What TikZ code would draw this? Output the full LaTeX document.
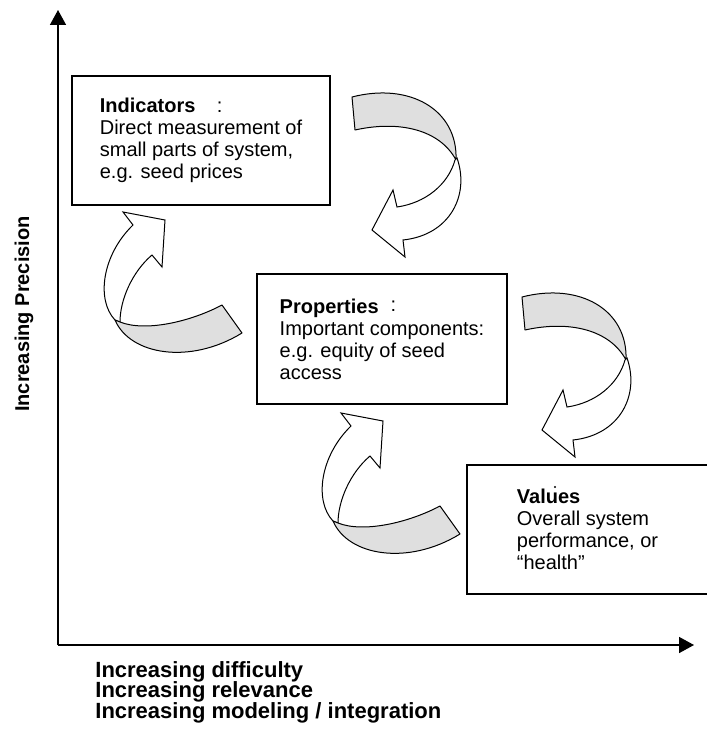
\documentclass[tikz,border=0pt]{standalone}
\usepackage{fontspec}
\setmainfont{Liberation Sans}
\usetikzlibrary{arrows.meta}
\newcommand\axislabelfont{\bfseries\fontsize{11}{10.25}\selectfont\lineskiplimit=-10pt\relax}
\tikzset{infobox/.style={draw, line width=0.8pt, align=left, inner sep=0pt, font=\fontsize{10}{11}\selectfont},
axis/.style={line width=0.8pt, -{Triangle[length=7.5pt,width=8pt]}},
backfold/.style={draw, fill=gray!25, line width=0.5pt, line join=round},
frontfold/.style={draw, fill=white, line width=0.5pt},
%ribbon turning down-left, local origin at its upper left
turndown/.pic={
  \draw[backfold] (2,7) -- (5,40) .. controls (50,30) and (90,40) .. (106,70)
    .. controls (108,20) and (60,-8) .. (2,7) -- cycle;
  \draw[frontfold] (107,68) .. controls (120,105) and (100,145) .. (53,150)
    -- (55,167) -- (22,140) -- (43,100) -- (47,117)
    .. controls (75,113) and (98,95) .. (105,70) -- cycle;
},
%ribbon turning up-right
turnup/.pic={
  \draw[frontfold] (43,45) -- (33,32) -- (75,40) -- (72,87) -- (62,75)
    .. controls (42,92) and (30,120) .. (30,142) -- (25,140)
    .. controls (6,120) and (12,75) .. (43,45) -- cycle;
  \draw[backfold] (25,140) .. controls (40,175) and (100,185) .. (152,153)
    -- (132,125) .. controls (100,142) and (55,152) .. (30,142) -- cycle;
}}

\begin{document}
\begin{tikzpicture}[x=0.5pt, y=-0.5pt]
		\useasboundingbox (0,0) rectangle (706,738);

		\coordinate (origin) at (58,645);
		\coordinate (ytop) at (58,10);
		\coordinate (xend) at (694,645);
		\draw[axis] (origin) -- (ytop);
		\draw[axis] (origin) -- (xend);

		\node[rotate=90, font=\bfseries\fontsize{10}{12}\selectfont] (ylabel) at (24,314) {Increasing Precision};
		\node[anchor=north west, inner sep=0pt, align=left, font=\axislabelfont] (xlabel) at (95,661)
		{Increasing difficulty\\Increasing relevance\\Increasing modeling / integration};

		\node[infobox, minimum width=129pt, minimum height=64.5pt] (indicators) at (201,140.5)
		{\textbf{Indicators}\hspace{10.7pt}:\\Direct measurement of\\small parts of system,\\e.g. seed prices};
		\node[infobox, minimum width=125pt, minimum height=65pt] (properties) at (382,339)
		{\textbf{Properties}\hspace{6pt}\raisebox{1pt}{:}\\Important components:\\e.g. equity of seed\\access};
		\node[infobox, minimum width=120.5pt, minimum height=64.5pt] (values) at (587.5,529.5)
		{\textbf{Values}\\Overall system\\performance, or\\``health''};
		\fill (555,487) circle (0.6pt);

		\pic (fold1) at (350,90) {turndown};
		\pic (fold2) at (90,180) {turnup};
		\pic (fold3) at (520,290) {turndown};
		\pic (fold4) at (308,381) {turnup};

	\end{tikzpicture}
\end{document}
